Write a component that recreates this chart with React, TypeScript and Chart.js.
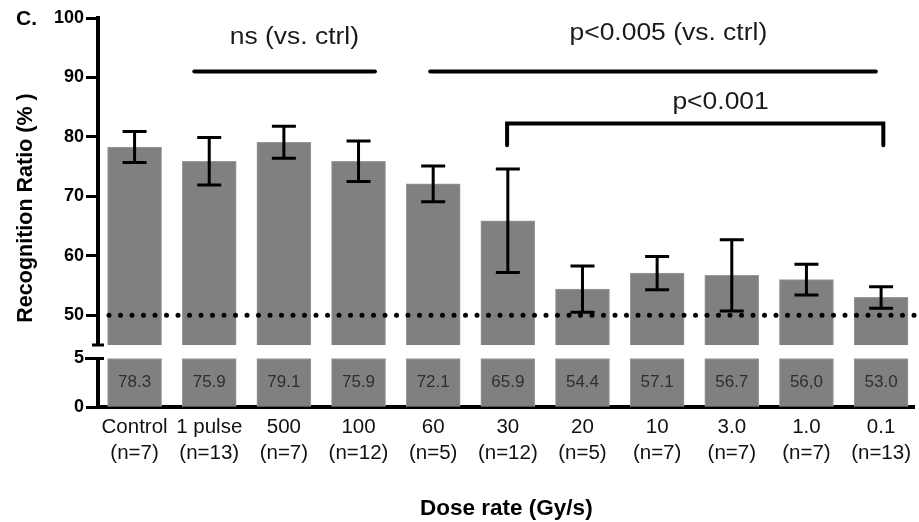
import { useEffect, useRef } from 'react';
import { Chart, registerables } from 'chart.js';

Chart.register(...registerables);

// ---------- data ----------
const categories = ['Control', '1 pulse', '500', '100', '60', '30', '20', '10', '3.0', '1.0', '0.1'];
const sampleSizes = ['(n=7)', '(n=13)', '(n=7)', '(n=12)', '(n=5)', '(n=12)', '(n=5)', '(n=7)', '(n=7)', '(n=7)', '(n=13)'];
const means = [78.3, 75.9, 79.1, 75.9, 72.1, 65.9, 54.4, 57.1, 56.7, 56.0, 53.0];
const meanLabels = ['78.3', '75.9', '79.1', '75.9', '72.1', '65.9', '54.4', '57.1', '56.7', '56,0', '53.0'];
const sems = [2.6, 4.0, 2.7, 3.4, 3.0, 8.7, 3.9, 2.8, 6.0, 2.6, 1.8];
const upperTicks = [50, 60, 70, 80, 90, 100];
const lowerTicks = [0, 5];
const lowerSegmentValue = 5;
const chanceLevel = 50;

// significance annotations (data coordinates: x = category index, y = upper-axis value)
const sigLineStarts = [0.8, 3.96];
const sigLineEnds = [3.22, 9.93];
const sigLineLevels = [91, 91];
const sigTexts = ['ns (vs. ctrl)', 'p<0.005 (vs. ctrl)', 'p<0.001'];
const sigTextX = [2.14, 7.15, 7.85];
const sigTextY = [95.7, 96.3, 84.7];
const bracketStart = 4.99;
const bracketEnd = 10.03;
const bracketLevel = 82.25;
const bracketFoot = 78.6;

const FONT = '"Liberation Sans", Arial, Helvetica, sans-serif';

const overlayPlugin = {
  id: 'overlay',
  afterDatasetsDraw(chart: any) {
    const { ctx, chartArea, scales } = chart;
    const xs = scales.x;
    const yT = scales.yTop;
    const yB = scales.yBot;
    ctx.save();

    // chance level dotted line
    const yc = yT.getPixelForValue(chanceLevel);
    ctx.beginPath();
    ctx.setLineDash([0, 11.5]);
    ctx.lineCap = 'round';
    ctx.lineWidth = 5;
    ctx.strokeStyle = '#000';
    ctx.moveTo(chartArea.left + 11, yc);
    ctx.lineTo(chartArea.right, yc);
    ctx.stroke();
    ctx.setLineDash([]);

    // error bars
    ctx.lineCap = 'butt';
    ctx.lineWidth = 3;
    means.forEach((m, i) => {
      const px = xs.getPixelForValue(i);
      const pTop = yT.getPixelForValue(m + sems[i]);
      const pBot = yT.getPixelForValue(m - sems[i]);
      ctx.beginPath();
      ctx.moveTo(px, pTop);
      ctx.lineTo(px, pBot);
      ctx.moveTo(px - 12, pTop);
      ctx.lineTo(px + 12, pTop);
      ctx.moveTo(px - 12, pBot);
      ctx.lineTo(px + 12, pBot);
      ctx.stroke();
    });

    // value labels inside lower segment bars
    const meta = chart.getDatasetMeta(1);
    ctx.fillStyle = '#2e2e2e';
    ctx.font = `17px ${FONT}`;
    ctx.textAlign = 'center';
    ctx.textBaseline = 'middle';
    meta.data.forEach((el: any, i: number) => {
      ctx.fillText(meanLabels[i], el.x, (el.y + el.base) / 2);
    });

    // significance lines
    ctx.strokeStyle = '#000';
    ctx.lineWidth = 4;
    ctx.lineCap = 'round';
    sigLineStarts.forEach((s, i) => {
      const py = yT.getPixelForValue(sigLineLevels[i]);
      ctx.beginPath();
      ctx.moveTo(xs.getPixelForValue(s), py);
      ctx.lineTo(xs.getPixelForValue(sigLineEnds[i]), py);
      ctx.stroke();
    });
    // bracket
    ctx.lineJoin = 'miter';
    ctx.lineCap = 'round';
    ctx.beginPath();
    const bl = xs.getPixelForValue(bracketStart);
    const br = xs.getPixelForValue(bracketEnd);
    const by = yT.getPixelForValue(bracketLevel);
    const bf = yT.getPixelForValue(bracketFoot);
    ctx.moveTo(bl, bf);
    ctx.lineTo(bl, by);
    ctx.lineTo(br, by);
    ctx.lineTo(br, bf);
    ctx.stroke();

    // significance texts (slightly wide lettering as in the figure)
    ctx.fillStyle = '#1a1a1a';
    ctx.font = `23px ${FONT}`;
    ctx.textBaseline = 'alphabetic';
    ctx.textAlign = 'center';
    sigTexts.forEach((t, i) => {
      ctx.save();
      ctx.translate(xs.getPixelForValue(sigTextX[i]), yT.getPixelForValue(sigTextY[i]));
      ctx.scale(1.15, 1);
      ctx.fillText(t, 0, 0);
      ctx.restore();
    });

    // broken axis: lower segment axis line and caps
    const ax = yB.right;
    const p5 = yB.getPixelForValue(lowerSegmentValue);
    const p0 = yB.getPixelForValue(0);
    ctx.lineCap = 'butt';
    ctx.lineWidth = 4;
    ctx.beginPath();
    ctx.moveTo(ax, p5 - 1.5);
    ctx.lineTo(ax, p0);
    ctx.stroke();
    ctx.lineWidth = 3;
    ctx.beginPath();
    ctx.moveTo(ax - 13, p5);
    ctx.lineTo(ax + 6, p5);
    const pBreak = yT.getPixelForValue(yT.min);
    ctx.moveTo(ax - 6, pBreak);
    ctx.lineTo(ax + 6, pBreak);
    ctx.stroke();

    ctx.restore();
  },
  afterDraw(chart: any) {
    const { ctx } = chart;
    ctx.save();
    ctx.fillStyle = '#000';
    // panel letter
    ctx.font = `bold 21px ${FONT}`;
    ctx.textAlign = 'left';
    ctx.textBaseline = 'alphabetic';
    ctx.fillText('C.', 16, 25);
    // y axis title spanning both segments
    ctx.font = `bold 21.5px ${FONT}`;
    ctx.translate(31.5, 208);
    ctx.rotate(-Math.PI / 2);
    ctx.textAlign = 'center';
    ctx.fillText('Recognition Ratio (% )', 0, 0);
    ctx.restore();
  },
};

export default function App() {
  const canvasRef = useRef<HTMLCanvasElement | null>(null);

  useEffect(() => {
    if (!canvasRef.current) return;
    const yCommon = {
      type: 'linear' as const,
      position: 'left' as const,
      stack: 'ratio',
      afterFit: (scale: any) => {
        scale.width = 98;
      },
      grid: {
        drawOnChartArea: false,
        drawTicks: true,
        tickLength: 12,
        tickWidth: 3,
        tickColor: '#000',
      },
      ticks: {
        padding: 2,
        color: '#000',
        font: { family: FONT, size: 18, weight: 'bold' as const },
      },
    };
    const chart = new Chart(canvasRef.current, {
      type: 'bar',
      data: {
        datasets: [
          {
            label: 'Recognition ratio',
            data: means.map((v, i) => ({ x: i, y: v })),
            xAxisID: 'x',
            yAxisID: 'yTop',
            backgroundColor: '#808080',
            borderColor: '#9a9a9a',
            borderWidth: 1,
            borderSkipped: false,
            barThickness: 54,
            grouped: false,
          },
          {
            label: 'Lower segment',
            data: means.map((_, i) => ({ x: i, y: lowerSegmentValue })),
            xAxisID: 'x',
            yAxisID: 'yBot',
            backgroundColor: '#808080',
            borderColor: '#9a9a9a',
            borderWidth: 1,
            borderSkipped: false,
            barThickness: 54,
            grouped: false,
          },
        ],
      },
      options: {
        responsive: false,
        animation: false,
        events: [],
        layout: { padding: { top: 18, left: 0, right: 0, bottom: 0 } },
        plugins: {
          legend: { display: false },
          tooltip: { enabled: false },
        },
        scales: {
          x: {
            type: 'linear',
            position: 'bottom',
            min: -0.49,
            max: 10.45,
            offset: false,
            afterFit: (scale: any) => {
              scale.height = 115;
            },
            afterBuildTicks: (scale: any) => {
              scale.ticks = categories.map((_, i) => ({ value: i }));
            },
            grid: { display: false, drawTicks: false },
            border: { display: true, color: '#000', width: 4 },
            ticks: {
              autoSkip: false,
              maxRotation: 0,
              minRotation: 0,
              padding: 8,
              color: '#111',
              font: { family: FONT, size: 20.5, lineHeight: 1.25 },
              callback: (_v: any, index: number) => [categories[index], sampleSizes[index]],
            },
            title: {
              display: true,
              text: 'Dose rate (Gy/s)',
              color: '#000',
              font: { family: FONT, size: 22.5, weight: 'bold' },
              padding: { top: 0, bottom: 0 },
            },
          },
          yTop: {
            ...yCommon,
            weight: 1,
            stackWeight: 327,
            min: 45,
            max: 100,
            afterBuildTicks: (scale: any) => {
              scale.ticks = upperTicks.map((v) => ({ value: v }));
            },
            border: { display: true, color: '#000', width: 4 },
          },
          yBot: {
            ...yCommon,
            weight: 0,
            stackWeight: 62,
            min: 0,
            max: 6.39,
            afterBuildTicks: (scale: any) => {
              scale.ticks = lowerTicks.map((v) => ({ value: v }));
            },
            border: { display: false },
          },
        },
      } as any,
      plugins: [overlayPlugin],
    });
    return () => chart.destroy();
  }, []);

  return (
    <div style={{ position: 'absolute', left: 0, top: 0, width: 919, height: 522, background: '#fff' }}>
      <canvas ref={canvasRef} width={919} height={522} style={{ width: 919, height: 522, display: 'block' }} />
    </div>
  );
}
